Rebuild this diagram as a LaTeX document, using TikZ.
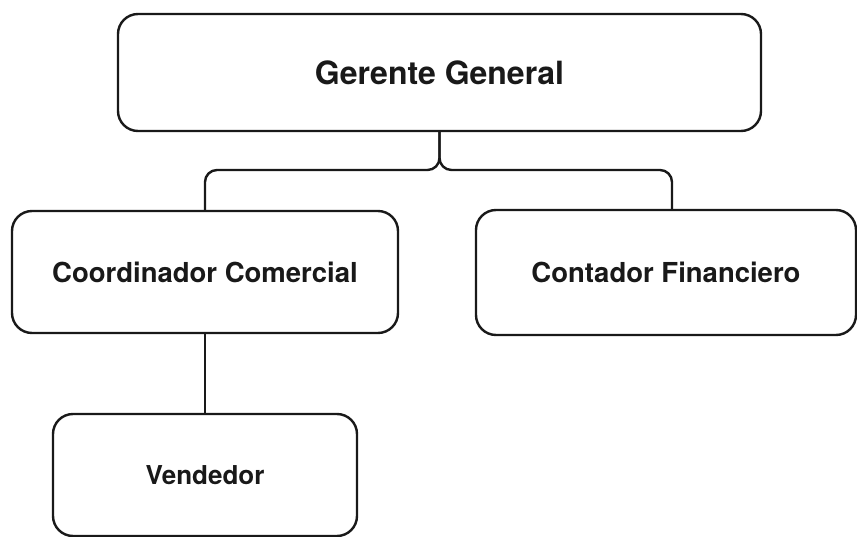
\documentclass[tikz,border=0pt]{standalone}
\usepackage{fontspec}
\setmainfont{TeX Gyre Heros}
\begin{document}
\begin{tikzpicture}[x=1pt,y=-1pt,
  orgbox/.style={draw=black!90, line width=2.4pt, rounded corners=20pt,
    fill=white, inner sep=0pt, font=\bfseries, text=black!90},
  link/.style={draw=black!90, line width=2.4pt, rounded corners=12pt}]
  \useasboundingbox (0,0) rectangle (857,537);
  % boxes
  \node[orgbox, minimum width=643pt, minimum height=117pt, font=\bfseries\fontsize{32}{36}\selectfont]
    (gerente) at (439.5,72.5) {Gerente General};
  \node[orgbox, minimum width=386pt, minimum height=122pt, font=\bfseries\fontsize{27.5}{32}\selectfont]
    (coord) at (205,272) {Coordinador Comercial};
  \node[orgbox, minimum width=380pt, minimum height=125pt, font=\bfseries\fontsize{27.5}{32}\selectfont]
    (conta) at (666,272.5) {Contador Financiero};
  \node[orgbox, minimum width=304pt, minimum height=122pt, font=\bfseries\fontsize{26}{30}\selectfont]
    (vend) at (205,475) {Vendedor};
  % connectors
  \coordinate (split) at (439.5,170);
  \draw[link] (gerente.south) -- (split) -| (coord.north);
  \draw[link] (gerente.south) -- (split) -| ([xshift=6pt]conta.north);
  \draw[link] (coord.south) -- (vend.north);
\end{tikzpicture}
\end{document}
